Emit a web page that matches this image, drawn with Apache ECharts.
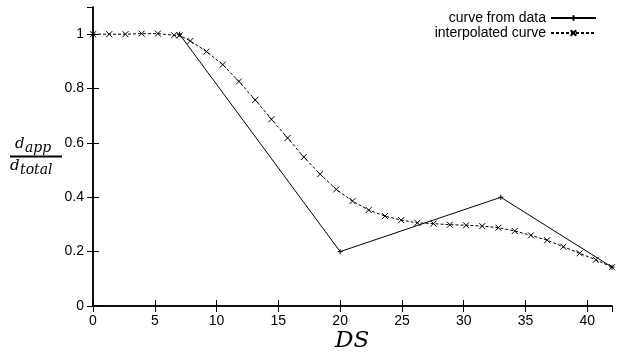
<!DOCTYPE html>
<html>
<head>
<meta charset="utf-8">
<script src="https://cdn.jsdelivr.net/npm/echarts@6/dist/echarts.min.js"></script>
<style>
html,body{margin:0;padding:0;background:#fff;}
#chart{width:617px;height:354px;}
</style>
</head>
<body>
<div id="chart"></div>
<script>
// ---- data ----
var dataX = [7, 20, 33, 42];
var dataY = [1.0, 0.2, 0.4, 0.143];

var interpX = [0, 1.31, 2.63, 3.94, 5.25, 6.56, 7, 7.88, 9.19, 10.5, 11.81, 13.13, 14.44, 15.75, 17.06, 18.38,
  19.69, 21, 22.31, 23.63, 24.94, 26.25, 27.56, 28.88, 30.19, 31.5, 32.81, 34.13, 35.44, 36.75, 38.06, 39.38, 40.69, 42];
var interpY = [1.0, 1.0, 1.0, 1.002, 1.002, 0.996, 0.996, 0.975, 0.936, 0.888, 0.826, 0.758, 0.687, 0.618, 0.548, 0.485,
  0.429, 0.386, 0.353, 0.331, 0.316, 0.306, 0.303, 0.299, 0.297, 0.294, 0.288, 0.276, 0.260, 0.242, 0.218, 0.194, 0.170, 0.143];

var seriesNames = ['curve from data', 'interpolated curve'];
var xTitle = 'DS';
var yNumMain = 'd', yNumSub = 'app', yDenMain = 'd', yDenSub = 'total';

function pairs(xs, ys) { return xs.map(function (x, i) { return [x, ys[i]]; }); }

var chart = echarts.init(document.getElementById('chart'), null, {renderer: 'canvas'});
var FONT = 'Liberation Sans';
var SERIF = 'DejaVu Serif';

var axisCommon = {
  axisLine: {show: true, lineStyle: {color: '#000', width: 1.5}},
  axisTick: {show: true, inside: true, length: 6, lineStyle: {color: '#000', width: 1}},
  splitLine: {show: false}
};

chart.setOption({
  animation: false,
  backgroundColor: '#fff',
  textStyle: {fontFamily: FONT},
  grid: {left: 93, right: 5, top: 7, bottom: 48, containLabel: false},
  legend: {
    orient: 'vertical', right: 20, top: 11, align: 'right',
    itemWidth: 45, itemHeight: 7, itemGap: 1, padding: 0,
    textStyle: {fontFamily: FONT, fontSize: 14, lineHeight: 14, color: '#000'},
    data: seriesNames
  },
  xAxis: [
    Object.assign({
      type: 'value', min: 0, max: 42, interval: 5, position: 'bottom',
      axisLabel: {show: true, showMaxLabel: false, fontFamily: FONT, fontSize: 14, color: '#000', margin: 8}
    }, axisCommon),
    Object.assign({
      type: 'value', min: 0, max: 42, interval: 5, position: 'top',
      axisLabel: {show: false}
    }, axisCommon)
  ],
  yAxis: [
    Object.assign({
      type: 'value', min: 0, max: 1.1, interval: 0.2, position: 'left',
      axisLabel: {show: true, showMaxLabel: false, fontFamily: FONT, fontSize: 14, color: '#000', margin: 9}
    }, axisCommon),
    Object.assign({
      type: 'value', min: 0, max: 1.1, interval: 0.2, position: 'right',
      axisLabel: {show: false}
    }, axisCommon)
  ],
  series: [
    {
      name: seriesNames[0], type: 'line', xAxisIndex: 0, yAxisIndex: 0,
      data: pairs(dataX, dataY),
      symbol: 'path://M5,0L5,10M0,5L10,5', symbolSize: 5, showSymbol: true,
      lineStyle: {color: '#000', width: 1, type: 'solid'},
      itemStyle: {color: '#000', borderColor: '#000', borderWidth: 1},
      z: 2
    },
    {
      name: seriesNames[1], type: 'line', xAxisIndex: 0, yAxisIndex: 0,
      data: pairs(interpX, interpY),
      symbol: 'path://M0,0L10,10M0,10L10,0', symbolSize: 6, showSymbol: true,
      lineStyle: {color: '#000', width: 1, type: [3, 2]},
      itemStyle: {color: '#000', borderColor: '#000', borderWidth: 1},
      z: 3
    }
  ],
  graphic: [
    {type: 'text', left: 15, top: 137, style: {text: yNumMain, font: 'italic 15px "' + SERIF + '"', fill: '#000'}},
    {type: 'text', left: 25, top: 141, style: {text: yNumSub, font: 'italic 14px "' + SERIF + '"', fill: '#000'}},
    {type: 'rect', shape: {x: 10, y: 155.5, width: 52, height: 2}, style: {fill: '#000'}},
    {type: 'text', left: 10, top: 159, style: {text: yDenMain, font: 'italic 15px "' + SERIF + '"', fill: '#000'}},
    {type: 'text', left: 20, top: 163, style: {text: yDenSub, font: 'italic 14px "' + SERIF + '"', fill: '#000'}},
    {type: 'text', left: 335, top: 330, style: {text: xTitle, font: 'italic 23px "' + SERIF + '"', fill: '#000'}}
  ]
});
</script>
</body>
</html>
